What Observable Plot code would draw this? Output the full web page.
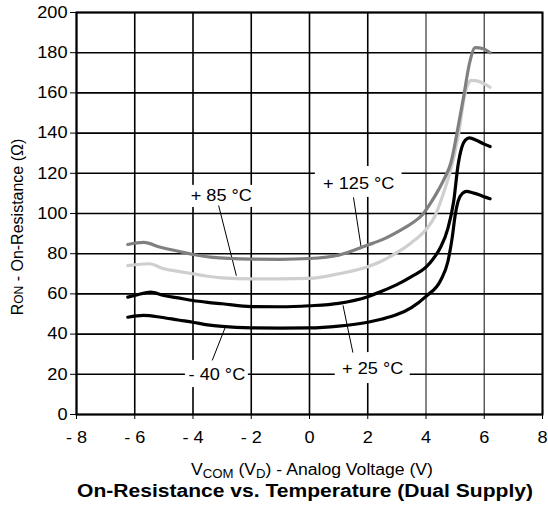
<!DOCTYPE html>
<html>
<head>
<meta charset="utf-8">
<script src="https://cdn.jsdelivr.net/npm/d3@7"></script>
<script src="https://cdn.jsdelivr.net/npm/@observablehq/plot@0.6"></script>
<style>
  html, body { margin: 0; padding: 0; background: #fff; }
  #chart { width: 548px; height: 510px; }
  svg text { font-family: "Liberation Sans", Arial, Helvetica, sans-serif; }
</style>
</head>
<body>
<div id="chart"></div>
<script>
// Series
const xM40 = [-6.24, -5.7, -5.1, -4.5, -4, -3.5, -3, -2, -1, 0, 1, 2, 2.5, 3, 3.5, 4, 4.5, 4.75, 4.9, 5.0, 5.1, 5.25, 5.4, 5.6, 5.8, 6.0, 6.2];
const yM40 = [48.4, 49.3, 48.4, 47, 45.9, 44.6, 43.8, 43.1, 43, 43.1, 44, 45.9, 47.5, 49.7, 53.2, 58.8, 66.7, 76, 88, 99, 106, 110, 111, 110.3, 109.5, 108.3, 107.3];

const x25 = [-6.24, -5.9, -5.46, -5, -4.5, -4, -3.5, -3, -2, -1, 0, 1, 2, 2.5, 3, 3.5, 4, 4.25, 4.5, 4.75, 4.95, 5.1, 5.23, 5.35, 5.49, 5.75, 6.0, 6.2];
const y25 = [58.4, 59.6, 60.9, 59.2, 58, 56.7, 55.8, 55.1, 53.7, 53.6, 54.1, 55.3, 58.6, 61.4, 64.6, 68.6, 73.3, 77.5, 83.2, 92.5, 106, 124, 133, 136.5, 137.6, 136.3, 134.5, 133.3];

const x85 = [-6.24, -5.5, -5.0, -4.5, -4, -3.5, -3, -2, -1, 0, 1, 2, 2.5, 3, 3.5, 4, 4.3, 4.55, 4.9, 5.14, 5.31, 5.45, 5.55, 5.75, 6.0, 6.2];
const y85 = [74.1, 75, 72.5, 71.2, 70, 68.8, 68, 67.5, 67.5, 67.7, 70, 73.5, 76.5, 80.5, 85.5, 92, 98.5, 108, 124.7, 141.3, 157.9, 164.5, 166.2, 166, 164.5, 162.8];

const x125 = [-6.24, -5.69, -5.12, -4.5, -4, -3.4, -2, -1, 0, 1, 2, 2.5, 3.1, 3.5, 3.9, 4.14, 4.4, 4.65, 4.85, 5.08, 5.29, 5.49, 5.69, 5.97, 6.2];
const y125 = [84.6, 85.6, 83.2, 81.2, 79.6, 78.3, 77.3, 77.2, 77.6, 79.3, 84.3, 87, 91.5, 95, 99.8, 104.8, 111, 118, 125, 141.3, 157.9, 174.5, 182.5, 182, 180];

const seriesNames = ["- 40 °C", "+ 25 °C", "+ 85 °C", "+ 125 °C"];
const seriesColors = ["#000000", "#000000", "#cfcfcf", "#808080"];

const xTicks = [-8, -6, -4, -2, 0, 2, 4, 6, 8];
const yTicks = [0, 20, 40, 60, 80, 100, 120, 140, 160, 180, 200];

// Callout labels (data units): text anchor, white box, leader line
const labels = [
  {name: "+ 85 °C",  tx: -3.03, ty: 108.6, bx1: -4.23, bx2: -1.83, by1: 103, by2: 114, lx1: -3.12, ly1: 104, lx2: -2.51, ly2: 69.0},
  {name: "+ 125 °C", tx: 1.69,  ty: 115.0, bx1: 0.20,  bx2: 3.18,  by1: 108, by2: 123.4, lx1: 1.51, ly1: 108, lx2: 1.77, ly2: 83.5},
  {name: "- 40 °C",  tx: -3.18, ty: 19.6,  bx1: -4.26, bx2: -2.10, by1: 13.4, by2: 26.9, lx1: -3.34, ly1: 26.9, lx2: -2.89, ly2: 43.5},
  {name: "+ 25 °C",  tx: 2.17,  ty: 22.8,  bx1: 0.885, bx2: 3.46,  by1: 15.4, by2: 30.8, lx1: 1.49, ly1: 30.8, lx2: 1.15, ly2: 54.3}
];

const build = (xs, ys, name) => xs.map((x, i) => ({x, y: ys[i], name}));
const data = [
  ...build(xM40, yM40, seriesNames[0]),
  ...build(x25, y25, seriesNames[1]),
  ...build(x85, y85, seriesNames[2]),
  ...build(x125, y125, seriesNames[3])
];

const fmt = d => d < 0 ? "- " + (-d) : String(d);

const plot = Plot.plot({
  width: 548,
  height: 510,
  marginLeft: 76,
  marginRight: 6,
  marginTop: 12,
  marginBottom: 96,
  style: {fontFamily: "Liberation Sans, Arial, sans-serif", fontSize: "16.5px", background: "#fff", color: "#000"},
  x: {domain: [-8, 8], ticks: xTicks, tickFormat: fmt, label: null},
  y: {domain: [0, 200], ticks: yTicks, label: null},
  color: {domain: seriesNames, range: seriesColors},
  marks: [
    Plot.gridX(xTicks.filter(d => d < 4), {stroke: "#000", strokeOpacity: 1, strokeWidth: 1.6}),
    Plot.gridX(xTicks.filter(d => d >= 4), {stroke: "#444", strokeOpacity: 1, strokeWidth: 1.3}),
    Plot.gridY(yTicks, {stroke: "#000", strokeOpacity: 1, strokeWidth: 1.6}),
    Plot.rect(labels, {x1: "bx1", x2: "bx2", y1: "by1", y2: "by2", fill: "#fff"}),
    Plot.link(labels, {x1: "lx1", y1: "ly1", x2: "lx2", y2: "ly2", stroke: "#000", strokeWidth: 1}),
    Plot.line(data, {x: "x", y: "y", z: "name", stroke: "name", strokeWidth: 3.2, curve: "monotone-x"}),
    Plot.text(labels, {x: "tx", y: "ty", text: "name", fill: "#000", fontSize: 16.5, textAnchor: "middle"}),
    Plot.frame({stroke: "#000", strokeWidth: 2}),
    Plot.axisX({ticks: xTicks, tickFormat: fmt, tickSize: 5, tickPadding: 12, stroke: "#000", fontSize: 16.5, label: null}),
    Plot.axisY({ticks: yTicks, tickSize: 6, tickPadding: 3, stroke: "#000", fontSize: 16.5, label: null})
  ]
});

document.getElementById("chart").appendChild(plot);

// Axis titles and chart title with subscripts
const svg = d3.select(plot);
const xs = plot.scale("x"), ys = plot.scale("y");
const cx = (xs.apply(-8) + xs.apply(8)) / 2;
const cy = (ys.apply(0) + ys.apply(200)) / 2;

// Reference text is slightly wide: stretch the horizontal texts
const stretch = 1.1;
svg.selectAll("text").each(function () {
  const len = this.getComputedTextLength();
  if (len > 0) {
    this.setAttribute("textLength", (len * stretch).toFixed(2));
    this.setAttribute("lengthAdjust", "spacingAndGlyphs");
  }
});

const xl = svg.append("text")
  .attr("x", cx + 3).attr("y", 475).attr("text-anchor", "middle")
  .attr("font-size", 16).attr("fill", "#000");
xl.append("tspan").text("V");
xl.append("tspan").attr("font-size", 12).attr("dy", 3).text("COM");
xl.append("tspan").attr("dy", -3).text(" (V");
xl.append("tspan").attr("font-size", 12).attr("dy", 3).text("D");
xl.append("tspan").attr("dy", -3).text(") - Analog Voltage (V)");
{
  const n = xl.node();
  n.setAttribute("textLength", (n.getComputedTextLength() * stretch).toFixed(2));
  n.setAttribute("lengthAdjust", "spacingAndGlyphs");
}

svg.append("text")
  .attr("x", 305).attr("y", 497).attr("text-anchor", "middle")
  .attr("font-size", 18).attr("font-weight", "bold").attr("fill", "#000")
  .attr("textLength", 456).attr("lengthAdjust", "spacingAndGlyphs")
  .text("On-Resistance vs. Temperature (Dual Supply)");

const yl = svg.append("text")
  .attr("transform", `translate(23,${cy + 14}) rotate(-90)`)
  .attr("text-anchor", "middle").attr("font-size", 16).attr("fill", "#000");
yl.append("tspan").text("R");
yl.append("tspan").attr("font-size", 12).text("ON");
yl.append("tspan").text(" - On-Resistance (Ω)");
</script>
</body>
</html>
